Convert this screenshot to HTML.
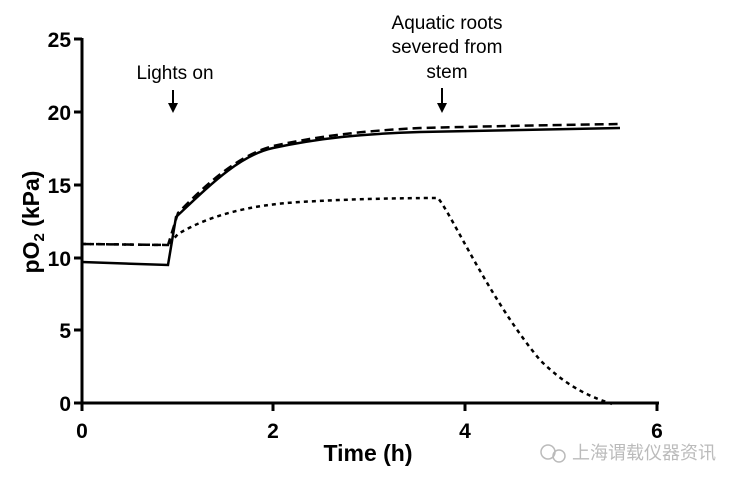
<!DOCTYPE html>
<html><head><style>
body{margin:0;background:#fff;}
svg{display:block;}
text{font-family:"Liberation Sans",Arial,sans-serif;}
</style></head><body>
<svg width="737" height="484" viewBox="0 0 737 484" xmlns="http://www.w3.org/2000/svg">
<g stroke="#000" stroke-width="3" fill="none">
<line x1="82" y1="38" x2="82" y2="404"/>
<line x1="80" y1="403" x2="659" y2="403"/>
<line x1="74" y1="39" x2="82" y2="39"/>
<line x1="74" y1="112" x2="82" y2="112"/>
<line x1="74" y1="185" x2="82" y2="185"/>
<line x1="74" y1="258" x2="82" y2="258"/>
<line x1="74" y1="330" x2="82" y2="330"/>
<line x1="74" y1="403" x2="82" y2="403"/>
<line x1="82" y1="403" x2="82" y2="411"/>
<line x1="273" y1="403" x2="273" y2="411"/>
<line x1="465" y1="403" x2="465" y2="411"/>
<line x1="657" y1="403" x2="657" y2="411"/>
</g>
<g font-size="21" font-weight="bold" text-anchor="end">
<text x="71" y="47">25</text><text x="71" y="120">20</text><text x="71" y="193">15</text>
<text x="71" y="266">10</text><text x="71" y="338">5</text><text x="71" y="411">0</text>
</g>
<g font-size="21" font-weight="bold" text-anchor="middle">
<text x="82" y="438">0</text><text x="273" y="438">2</text><text x="465" y="438">4</text><text x="657" y="438">6</text>
<text x="368" y="461" font-size="23">Time (h)</text>
</g>
<text transform="translate(39,222) rotate(-90)" font-size="23" font-weight="bold" text-anchor="middle">pO<tspan font-size="15" dy="5">2</tspan><tspan dy="-5"> (kPa)</tspan></text>
<g font-size="19" text-anchor="middle">
<text x="175" y="79">Lights on</text>
<text x="447" y="29">Aquatic roots</text>
<text x="447" y="53">severed from</text>
<text x="447" y="78">stem</text>
</g>
<g stroke="#000" stroke-width="2"><line x1="173" y1="90" x2="173" y2="106"/><line x1="442" y1="88" x2="442" y2="106"/></g>
<polygon points="168,103 178,103 173,113" fill="#000"/>
<polygon points="437,103 447,103 442,113" fill="#000"/>
<g fill="none" stroke="#000" stroke-width="2.5">
<path d="M82,262 L168,265 L176,217 C210,185 240,155 273,148 C320,138 360,134 420,132 C500,130 560,129 620,128"/>
<path d="M82,244 L168,245 L178,213 C210,180 240,155 273,146 C320,136 360,131 420,128 C500,126 560,125 620,124" stroke-dasharray="9,5"/>
<path d="M82,244 L168,245 L178,234 C210,215 250,205 300,202 C350,199 400,198 438,198 C452,215 490,300 540,360 C570,390 595,398 612,404" stroke-dasharray="4,4"/>
</g>
<g fill="#bbb" font-size="18">
<text x="572" y="459" font-family="'Liberation Sans','Noto Sans CJK SC',sans-serif">上海谓载仪器资讯</text>
</g>
<g fill="none" stroke="#bbb" stroke-width="1.5"><circle cx="548" cy="452" r="7"/><circle cx="559" cy="456" r="6"/></g>
</svg>
</body></html>
